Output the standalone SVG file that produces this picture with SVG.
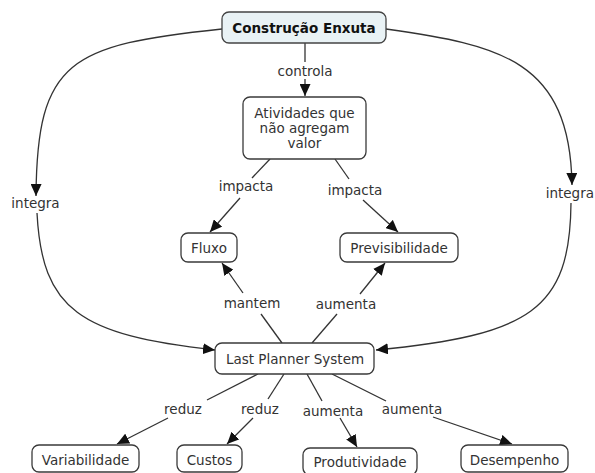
<svg xmlns="http://www.w3.org/2000/svg" width="595" height="473" viewBox="0 0 595 473">
<style>
.n rect{fill:#fff;stroke:#3a3a3a;stroke-width:1.3}
.n text,.lbl{font-family:"DejaVu Sans","Liberation Sans",sans-serif;font-size:13.5px;fill:#333;text-anchor:middle}
.c path{fill:none;stroke:#333;stroke-width:1.3}
.c .a{marker-end:url(#ah)}
</style>
<defs>
<marker id="ah" markerUnits="userSpaceOnUse" markerWidth="12" markerHeight="11" refX="12" refY="5.5" orient="auto">
<path d="M0,0 L12,5.5 L0,11 z" fill="#111"/>
</marker>
</defs>
<g id="connectors" class="c">
<path d="M305,43 L305,62"/>
<path class="a" d="M305,79 L305,96"/>
<path d="M270,159 L252,178"/>
<path class="a" d="M240,198 L210,232"/>
<path d="M335,159 L349,179"/>
<path class="a" d="M363,200 L398,232"/>
<path class="a" d="M222,29 C70,45 37,60 36,196"/>
<path class="a" d="M37,213 C42,310 80,335 215,350"/>
<path class="a" d="M386,29 C500,45 570,60 572,185"/>
<path class="a" d="M571,203 C570,310 530,335 376,350"/>
<path d="M282,343 L261,314"/>
<path class="a" d="M243,293 L222,263"/>
<path d="M312,343 L337,314"/>
<path class="a" d="M360,294 L385,263"/>
<path d="M258,374 L207,400"/>
<path class="a" d="M168,418 L117,444"/>
<path d="M284,374 L268,399"/>
<path class="a" d="M253,418 L227,444"/>
<path d="M307,374 L322,401"/>
<path class="a" d="M340,418 L357,447"/>
<path d="M332,374 L386,401"/>
<path class="a" d="M433,417 L512,444"/>
<g class="lbl-g">
<text class="lbl" x="305" y="76">controla</text>
<text class="lbl" x="246" y="191">impacta</text>
<text class="lbl" x="355" y="195">impacta</text>
<text class="lbl" x="35.5" y="208">integra</text>
<text class="lbl" x="594" y="198" style="text-anchor:end">integra</text>
<text class="lbl" x="252" y="308">mantem</text>
<text class="lbl" x="346" y="309">aumenta</text>
<text class="lbl" x="183" y="414">reduz</text>
<text class="lbl" x="260" y="414">reduz</text>
<text class="lbl" x="333" y="416">aumenta</text>
<text class="lbl" x="412" y="414">aumenta</text>
</g>
</g>
<g id="n-construcao" class="n">
<rect x="222" y="12" width="164" height="31" rx="7" style="fill:#e9f2f5;stroke:#444"/>
<text x="304" y="32.5" style="font-weight:bold;fill:#111">Construção Enxuta</text>
</g>
<g id="n-atividades" class="n">
<rect x="243" y="97" width="123" height="62" rx="7"/>
<text x="304.5" y="118">Atividades que</text>
<text x="304.5" y="133">não agregam</text>
<text x="304.5" y="148">valor</text>
</g>
<g id="n-fluxo" class="n">
<rect x="181" y="233" width="56" height="29" rx="7"/>
<text x="209" y="252.5">Fluxo</text>
</g>
<g id="n-previsibilidade" class="n">
<rect x="340" y="233" width="118" height="29" rx="7"/>
<text x="399" y="252.5">Previsibilidade</text>
</g>
<g id="n-lps" class="n">
<rect x="215" y="343" width="159" height="31" rx="7"/>
<text x="295" y="363.5">Last Planner System</text>
</g>
<g id="n-variabilidade" class="n">
<rect x="32" y="445" width="107" height="27" rx="7"/>
<text x="85.5" y="465">Variabilidade</text>
</g>
<g id="n-custos" class="n">
<rect x="177" y="445" width="65" height="27" rx="7"/>
<text x="209.5" y="465">Custos</text>
</g>
<g id="n-produtividade" class="n">
<rect x="303" y="448" width="114" height="27" rx="7"/>
<text x="360" y="467">Produtividade</text>
</g>
<g id="n-desempenho" class="n">
<rect x="461" y="445" width="107" height="27" rx="7"/>
<text x="514.5" y="465">Desempenho</text>
</g>
</svg>
